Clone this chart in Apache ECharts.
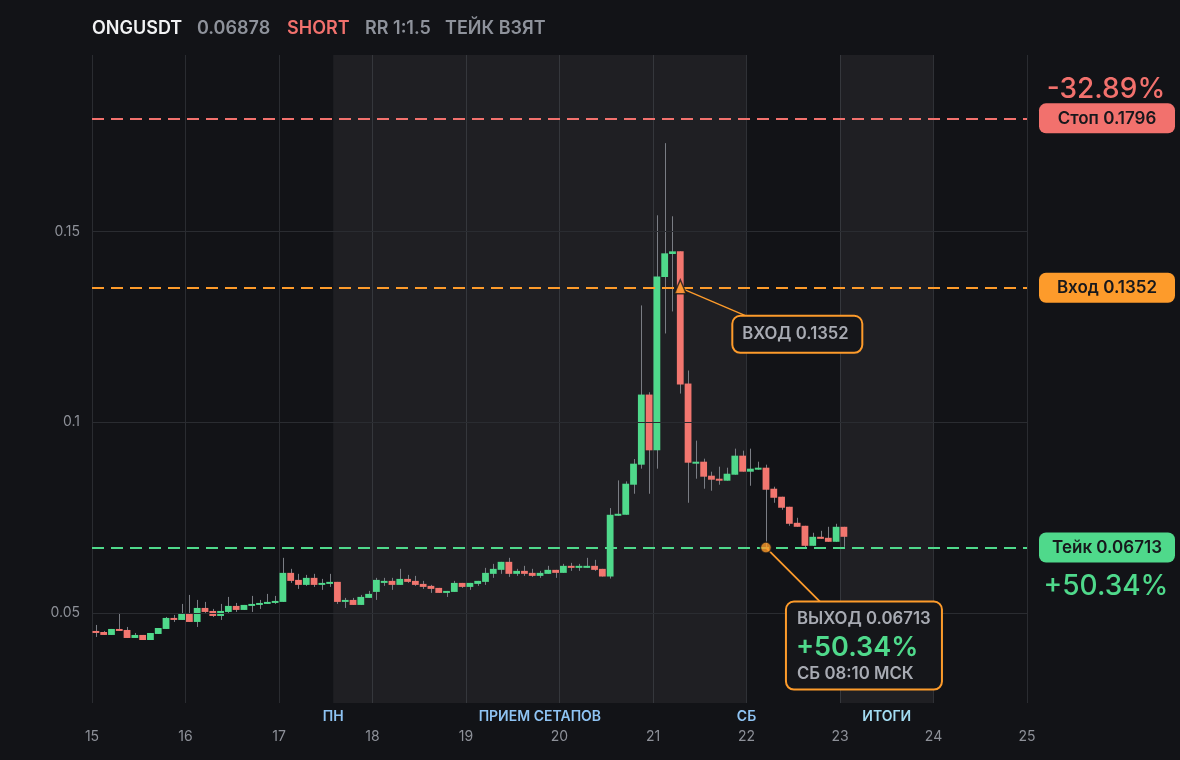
<!DOCTYPE html>
<html><head><meta charset="utf-8">
<script src="https://cdn.jsdelivr.net/npm/echarts@6/dist/echarts.min.js"></script>
<style>html,body{margin:0;padding:0;background:#121317;}#c{width:1180px;height:760px;}</style>
</head><body><div id="c"></div>
<script>
// ---- data ----
const startDay = 15;          // first candle opens at day 15
const candleDays = 2 / 24;    // 2-hour candles
// [open, close, low, high]
const ohlc = [
[0.04528,0.04475,0.04370,0.04685],[0.04500,0.04423,0.04423,0.04528],[0.04423,0.04580,0.04423,0.04580],[0.04580,0.04528,0.04528,0.05000],
[0.04554,0.04344,0.04344,0.04633],[0.04344,0.04423,0.04344,0.04475],[0.04423,0.04291,0.04291,0.04423],[0.04291,0.04475,0.04291,0.04475],
[0.04449,0.04606,0.04449,0.04606],[0.04580,0.04869,0.04580,0.04895],[0.04869,0.04816,0.04764,0.04948],[0.04816,0.04974,0.04816,0.05236],
[0.04974,0.04764,0.04764,0.05472],[0.04764,0.05131,0.04633,0.05341],[0.05131,0.05026,0.05000,0.05289],[0.05052,0.04921,0.04895,0.05105],
[0.04921,0.05052,0.04816,0.05236],[0.05026,0.05184,0.05000,0.05420],[0.05184,0.05079,0.05026,0.05262],[0.05079,0.05210,0.05079,0.05210],
[0.05184,0.05236,0.05026,0.05446],[0.05210,0.05262,0.05105,0.05341],[0.05236,0.05289,0.05236,0.05499],[0.05262,0.05315,0.05236,0.05446],
[0.05289,0.06050,0.05289,0.06444],[0.06050,0.05840,0.05787,0.06155],[0.05866,0.05735,0.05630,0.06024],[0.05735,0.05919,0.05709,0.05997],
[0.05919,0.05735,0.05682,0.06024],[0.05735,0.05787,0.05604,0.05892],[0.05761,0.05814,0.05682,0.06024],[0.05814,0.05289,0.05236,0.05814],
[0.05289,0.05341,0.05131,0.05394],[0.05341,0.05210,0.05210,0.05394],[0.05210,0.05420,0.05210,0.05472],[0.05394,0.05499,0.05394,0.05577],
[0.05551,0.05866,0.05341,0.05919],[0.05787,0.05840,0.05709,0.05919],[0.05840,0.05735,0.05604,0.05919],[0.05735,0.05892,0.05735,0.06155],
[0.05892,0.05814,0.05787,0.05997],[0.05840,0.05735,0.05709,0.05971],[0.05761,0.05682,0.05630,0.05840],[0.05709,0.05630,0.05525,0.05735],
[0.05656,0.05525,0.05525,0.05656],[0.05525,0.05577,0.05420,0.05577],[0.05551,0.05787,0.05551,0.05840],[0.05787,0.05682,0.05656,0.05787],
[0.05682,0.05787,0.05604,0.05787],[0.05761,0.05840,0.05709,0.05840],[0.05814,0.06050,0.05735,0.06181],[0.06024,0.06155,0.05919,0.06286],
[0.06129,0.06339,0.06024,0.06339],[0.06339,0.06024,0.05945,0.06444],[0.06024,0.06102,0.05971,0.06155],[0.06102,0.06024,0.05971,0.06234],
[0.06050,0.05971,0.05945,0.06155],[0.05971,0.06050,0.05919,0.06102],[0.06024,0.06129,0.06024,0.06234],[0.06129,0.06050,0.05919,0.06129],
[0.06050,0.06234,0.06050,0.06286],[0.06234,0.06181,0.06102,0.06312],[0.06181,0.06234,0.06102,0.06286],[0.06181,0.06234,0.06181,0.06444],
[0.06234,0.06129,0.06102,0.06391],[0.06155,0.05954,0.05954,0.06155],[0.05954,0.07572,0.05901,0.07747],[0.07546,0.07598,0.07546,0.08473],
[0.07572,0.08386,0.07572,0.08447],[0.08360,0.08911,0.08123,0.09033],[0.08885,0.10722,0.08780,0.13058],[0.10722,0.09261,0.08123,0.10783],
[0.09261,0.13819,0.08780,0.15420],[0.13802,0.14423,0.12323,0.17310],[0.14405,0.14475,0.12900,0.15394],[0.14475,0.10984,0.10748,0.14475],
[0.11011,0.08937,0.07887,0.11352],[0.08911,0.08963,0.08517,0.09515],[0.08963,0.08570,0.08255,0.09042],[0.08596,0.08491,0.08202,0.08701],
[0.08517,0.08465,0.08360,0.08832],[0.08465,0.08648,0.08465,0.08806],[0.08622,0.09121,0.08622,0.09305],[0.09121,0.08701,0.08701,0.09252],
[0.08701,0.08780,0.08333,0.09305],[0.08753,0.08806,0.08753,0.08963],[0.08806,0.08228,0.06720,0.08885],[0.08255,0.08018,0.07887,0.08307],
[0.08045,0.07756,0.07704,0.08045],[0.07782,0.07336,0.07284,0.07782],[0.07362,0.07257,0.07257,0.07493],[0.07284,0.06759,0.06706,0.07284],
[0.06759,0.06995,0.06759,0.07100],[0.06995,0.06942,0.06942,0.07152],[0.06969,0.06864,0.06864,0.07257],[0.06864,0.07257,0.06864,0.07336],
[0.07257,0.06995,0.06732,0.07257]
];
const yTicks = [0.05, 0.1, 0.15];
const xMin = 15, xMax = 25;
const levels = [
  {name:'Стоп', value:0.1796, text:'Стоп 0.1796', color:'#f2716d', pct:'-32.89%', pctOffset:-29},
  {name:'Вход', value:0.1352, text:'Вход 0.1352', color:'#fd9b2b', pct:null},
  {name:'Тейк', value:0.06713, text:'Тейк 0.06713', color:'#4fd98b', pct:'+50.34%', pctOffset:39}
];
const bands = [[17.58, 22.0], [23.0, 24.0]];
const bandLabels = [
  {x:17.58, text:'ПН', color:'#8ec3f3'},
  {x:19.79, text:'ПРИЕМ СЕТАПОВ', color:'#8ec3f3'},
  {x:22.0, text:'СБ', color:'#8ec3f3'},
  {x:23.5, text:'ИТОГИ', color:'#a3dcf2'}
];
const entryPoint = {x:21.292, y:0.1352, label:'ВХОД 0.1352'};
const exitPoint = {x:22.208, y:0.06713, lines:['ВЫХОД 0.06713','+50.34%','СБ 08:10 МСК']};
const titleParts = [
  {text:'ONGUSDT', color:'#f1f2f4'},
  {text:'0.06878', color:'#8e929b'},
  {text:'SHORT', color:'#f2716d'},
  {text:'RR 1:1.5', color:'#8e929b'},
  {text:'ТЕЙК ВЗЯТ', color:'#8e929b'}
];

// ---- chart ----
const GREEN = '#4fd98b', RED = '#f2766f', ORANGE = '#fd9b2b';
const FONT = 'Inter, "Noto Sans", sans-serif';
const candleData = ohlc.map((r, i) => [startDay + (i + 0.5) * candleDays, r[0], r[1], r[2], r[3]]);

const chart = echarts.init(document.getElementById('c'), null, {renderer:'canvas'});
const option = {
  backgroundColor:'#121317',
  animation:false,
  grid:{left:92, right:153, top:55, bottom:57},
  xAxis:{type:'value', min:xMin, max:xMax, interval:1,
    axisLine:{show:false}, axisTick:{show:false},
    axisLabel:{color:'#8e9199', fontSize:14, fontFamily:FONT, margin:27},
    splitLine:{show:true, lineStyle:{color:'#2a2c31', width:1}}},
  yAxis:{type:'value', min:0.0264, max:0.1962,
    axisLine:{show:false}, axisTick:{show:false},
    axisLabel:{color:'#8e9199', fontSize:14, fontFamily:FONT, margin:12, customValues:yTicks,
      formatter:v => String(+v.toFixed(4))},
    splitLine:{show:false}},
  series:[
    {type:'line', data:[], silent:true, z:1,
      markArea:{silent:true, itemStyle:{color:'rgba(255,255,255,0.055)'},
        data:bands.map(b => [{xAxis:b[0]}, {xAxis:b[1]}])},
      markLine:{silent:true, precision:6, symbol:['none','none'], label:{show:false},
        lineStyle:{color:'#2a2c31', width:1, type:'solid'},
        data:yTicks.map(v => ({yAxis:v}))}
    },
    {type:'custom', z:3, data:candleData,
      renderItem:function(params, api){
        const x = api.value(0), o = api.value(1), c = api.value(2), l = api.value(3), h = api.value(4);
        const pO = api.coord([x,o]), pC = api.coord([x,c]), pL = api.coord([x,l]), pH = api.coord([x,h]);
        const w = api.size([candleDays, 0])[0] - 1;
        const up = c >= o;
        const top = Math.min(pO[1], pC[1]);
        const hh = Math.max(Math.abs(pO[1]-pC[1]), 2);
        return {type:'group', children:[
          {type:'line', shape:{x1:Math.round(pH[0])+0.5, y1:pH[1], x2:Math.round(pL[0])+0.5, y2:pL[1]}, style:{stroke:'#7a7d84', lineWidth:1}},
          {type:'rect', shape:{x:pO[0]-w/2, y:top, width:w, height:hh}, style:{fill: up ? GREEN : RED}}
        ]};
      }
    },
    {type:'line', data:[], silent:true, z:4,
      markLine:{silent:true, precision:6, symbol:['none','none'], label:{show:false},
        data:levels.map(L => ({yAxis:L.value, lineStyle:{color:L.color, type:[12,7], width:1.8}}))}
    },
    {type:'scatter', z:6, silent:true, data:[[entryPoint.x, entryPoint.y]],
      symbol:'triangle', symbolSize:[12,14], symbolOffset:[0,-1],
      itemStyle:{color:ORANGE, borderColor:'#15161a', borderWidth:1.5}},
    {type:'scatter', z:6, silent:true, data:[[exitPoint.x, exitPoint.y]],
      symbol:'circle', symbolSize:11,
      itemStyle:{color:ORANGE, borderColor:'#15161a', borderWidth:1.5}}
  ]
};
chart.setOption(option);

const px = (x, y) => chart.convertToPixel({gridIndex:0}, [x, y]);
const g = [];
// title
const titleX = [92, 197, 287, 365, 445];
titleParts.forEach((t, i) => g.push({type:'text', x:titleX[i], y:29, z:10,
  style:{text:t.text, fill:t.color, font:'600 18px ' + FONT, textVerticalAlign:'middle'}}));
// band labels
bandLabels.forEach(b => {
  const p = px(b.x, 0.05);
  g.push({type:'text', x:p[0], y:717, z:10, style:{text:b.text, fill:b.color, font:'600 14px ' + FONT, textAlign:'center', textVerticalAlign:'middle'}});
});
// right level labels
levels.forEach(L => {
  const y = px(xMax, L.value)[1];
  g.push({type:'rect', z:10, shape:{x:1039, y:y-15, width:136, height:30, r:7}, style:{fill:L.color}});
  g.push({type:'text', z:11, x:1107, y:y+0.5, style:{text:L.text, fill:'#17181c', font:'600 17px ' + FONT, textAlign:'center', textVerticalAlign:'middle'}});
  if (L.pct) {
    g.push({type:'text', z:11, x:1106, y:y + L.pctOffset, style:{text:L.pct, fill:L.color, font:'500 28px ' + FONT, textAlign:'center', textVerticalAlign:'middle'}});
  }
});
// entry callout
const pe = px(entryPoint.x, entryPoint.y);
g.push({type:'line', z:5, shape:{x1:pe[0], y1:pe[1], x2:pe[0]+68, y2:pe[1]+29}, style:{stroke:ORANGE, lineWidth:1.3}});
g.push({type:'rect', z:7, shape:{x:pe[0]+52, y:pe[1]+28, width:130, height:37, r:8}, style:{fill:'#15161a', stroke:ORANGE, lineWidth:2}});
g.push({type:'text', z:8, x:pe[0]+62, y:pe[1]+46.5, style:{text:entryPoint.label, fill:'#a8abb3', font:'600 16.7px ' + FONT, textVerticalAlign:'middle'}});
// exit callout
const px2 = px(exitPoint.x, exitPoint.y);
g.push({type:'line', z:5, shape:{x1:px2[0], y1:px2[1], x2:px2[0]+54, y2:px2[1]+54}, style:{stroke:ORANGE, lineWidth:1.8}});
g.push({type:'rect', z:7, shape:{x:px2[0]+20, y:px2[1]+54, width:156, height:88, r:8}, style:{fill:'#15161a', stroke:ORANGE, lineWidth:2}});
g.push({type:'text', z:8, x:px2[0]+31, y:px2[1]+71, style:{text:exitPoint.lines[0], fill:'#a8abb3', font:'600 16.8px ' + FONT, textVerticalAlign:'middle'}});
g.push({type:'text', z:8, x:px2[0]+30, y:px2[1]+100, style:{text:exitPoint.lines[1], fill:GREEN, font:'600 27px ' + FONT, textVerticalAlign:'middle'}});
g.push({type:'text', z:8, x:px2[0]+31, y:px2[1]+126, style:{text:exitPoint.lines[2], fill:'#a8abb3', font:'600 16.8px ' + FONT, textVerticalAlign:'middle'}});
chart.setOption({graphic:{elements:g}});
</script></body></html>
